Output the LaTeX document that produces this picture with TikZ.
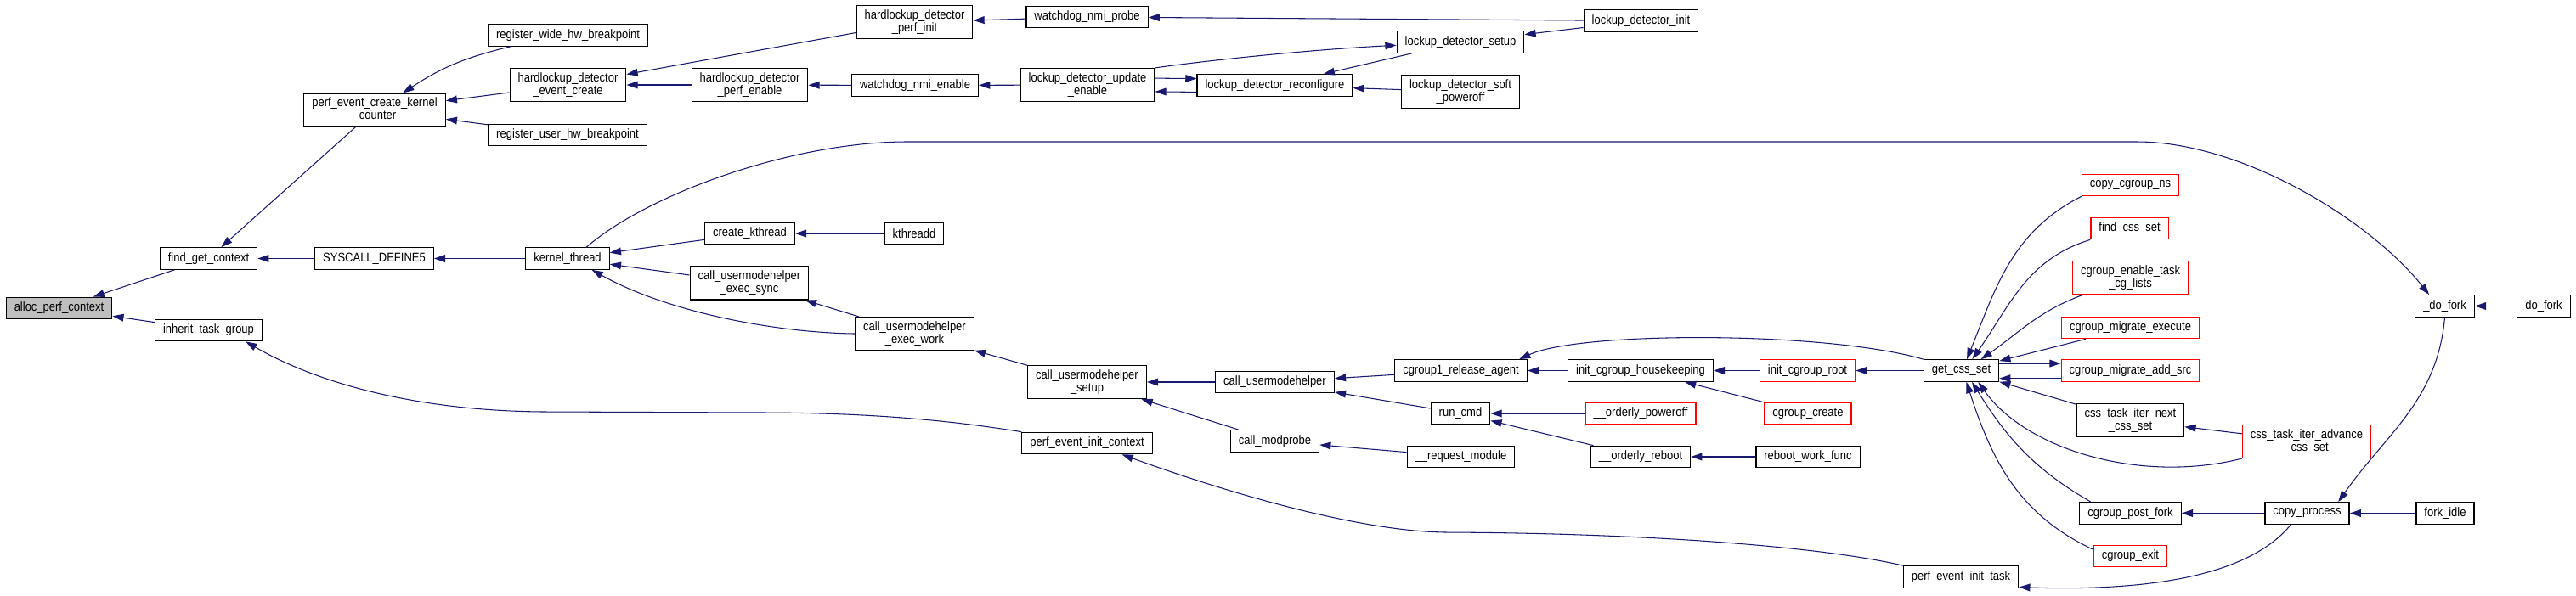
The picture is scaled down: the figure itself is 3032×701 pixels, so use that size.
\documentclass[tikz,border=0pt]{standalone}
\usepackage{fontspec}
\setmainfont{Liberation Sans}[FakeStretch=0.87]
\usepackage{tikz}
\usetikzlibrary{arrows.meta}
\definecolor{dxedge}{RGB}{25,25,112}
\definecolor{dxgray}{RGB}{191,191,191}
\definecolor{dxred}{RGB}{255,0,0}

\begin{document}
\begin{tikzpicture}[x=0.02cm,y=0.02cm,font=\fontsize{8.5}{8.5}\selectfont,
      f/.style={draw=black,line width=.7pt,fill=white,inner xsep=5.4pt,
        inner ysep=2.9pt,minimum height=14.5pt,align=center},
      r/.style={f,draw=dxred},
      a/.style={-{Triangle[length=7.5pt,width=5pt]},color=dxedge,line width=.6pt}]
      \useasboundingbox (0,0) rectangle (3032,-701);
      \node[f,fill=dxgray] (alloc) at (69.5,-363) {alloc\_perf\_context};
      \node[f] (findctx) at (245.5,-304.5) {find\_get\_context};
      \node[f] (inherit) at (245.5,-389) {inherit\_task\_group};
      \node[f] (createkc) at (441,-129.5) {perf\_event\_create\_kernel\\\_counter};
      \node[f] (sysdef) at (440.5,-304.5) {SYSCALL\_DEFINE5};
      \node[f] (regwide) at (668.5,-41.5) {register\_wide\_hw\_breakpoint};
      \node[f] (hdcreate) at (668.5,-100) {hardlockup\_detector\\\_event\_create};
      \node[f] (reguser) at (668,-159) {register\_user\_hw\_breakpoint};
      \node[f] (kthread) at (668,-304.5) {kernel\_thread};
      \node[f] (hdinit) at (1076.5,-26) {hardlockup\_detector\\\_perf\_init};
      \node[f] (hdenable) at (882.5,-100) {hardlockup\_detector\\\_perf\_enable};
      \node[f] (mkkthread) at (882.5,-275) {create\_kthread};
      \node[f] (umhsync) at (882,-333.5) {call\_usermodehelper\\\_exec\_sync};
      \node[f] (nmiprobe) at (1279.5,-20) {watchdog\_nmi\_probe};
      \node[f] (nmienable) at (1077,-100.5) {watchdog\_nmi\_enable};
      \node[f] (kthreadd) at (1076,-275) {kthreadd};
      \node[f] (umhwork) at (1076.5,-393) {call\_usermodehelper\\\_exec\_work};
      \node[f] (ldupdate) at (1280,-100) {lockup\_detector\_update\\\_enable};
      \node[f] (umhsetup) at (1279.5,-450) {call\_usermodehelper\\\_setup};
      \node[f] (initctx) at (1279.5,-522) {perf\_event\_init\_context};
      \node[f] (ldreconf) at (1500.5,-100.5) {lockup\_detector\_reconfigure};
      \node[f] (umh) at (1500.5,-450) {call\_usermodehelper};
      \node[f] (modprobe) at (1500.5,-519.5) {call\_modprobe};
      \node[f] (ldsetup) at (1719,-49.5) {lockup\_detector\_setup};
      \node[f] (ldsoftoff) at (1719,-108) {lockup\_detector\_soft\\\_poweroff};
      \node[f] (relagent) at (1719.5,-436.5) {cgroup1\_release\_agent};
      \node[f] (runcmd) at (1719,-487) {run\_cmd};
      \node[f] (reqmod) at (1719.5,-538) {\_\_request\_module};
      \node[f] (ldinit) at (1931.5,-24.5) {lockup\_detector\_init};
      \node[f] (housekeep) at (1931,-436.5) {init\_cgroup\_housekeeping};
      \node[r] (poweroff) at (1931,-487) {\_\_orderly\_poweroff};
      \node[f] (reboot) at (1931,-538) {\_\_orderly\_reboot};
      \node[r] (cgroot) at (2127.5,-436.5) {init\_cgroup\_root};
      \node[r] (cgcreate) at (2128,-487) {cgroup\_create};
      \node[f] (rebootwf) at (2128,-538) {reboot\_work\_func};
      \node[f] (getcss) at (2308.5,-436.5) {get\_css\_set};
      \node[f] (inittask) at (2308,-679.5) {perf\_event\_init\_task};
      \node[r] (cgns) at (2507.5,-218) {copy\_cgroup\_ns};
      \node[r] (findcss) at (2506.5,-269) {find\_css\_set};
      \node[r] (cgenable) at (2507.5,-327) {cgroup\_enable\_task\\\_cg\_lists};
      \node[r] (migexec) at (2507.5,-386) {cgroup\_migrate\_execute};
      \node[r] (migadd) at (2507.5,-436.5) {cgroup\_migrate\_add\_src};
      \node[f] (iternext) at (2507.5,-495) {css\_task\_iter\_next\\\_css\_set};
      \node[f] (postfork) at (2507.5,-604.5) {cgroup\_post\_fork};
      \node[r] (cgexit) at (2507.5,-655) {cgroup\_exit};
      \node[r] (iteradv) at (2715,-520) {css\_task\_iter\_advance\\\_css\_set};
      \node[f] (copyproc) at (2715.5,-604.5) {copy\_process};
      \node[f] (idofork) at (2877.5,-360.5) {\_do\_fork};
      \node[f] (forkidle) at (2878,-604.5) {fork\_idle};
      \node[f] (dofork) at (2994,-360.5) {do\_fork};
      \draw[a] (findctx)--(alloc);
      \draw[a] (inherit)--(alloc);
      \draw[a] (createkc)--(findctx);
      \draw[a] (sysdef)--(findctx);
      \draw[a] (regwide) to[bend right=10] (createkc);
      \draw[a] (hdcreate)--(createkc);
      \draw[a] (reguser)--(createkc);
      \draw[a] (kthread)--(sysdef);
      \draw[a] (hdinit)--(hdcreate);
      \draw[a] (hdenable)--(hdcreate);
      \draw[a] (nmiprobe)--(hdinit);
      \draw[a] (ldinit)--(nmiprobe);
      \draw[a] (nmienable)--(hdenable);
      \draw[a] (ldupdate)--(nmienable);
      \draw[a] ([yshift=4.5pt]ldupdate.east)--([yshift=4.5pt]ldreconf.west);
      \draw[a] ([yshift=-4.5pt]ldreconf.west)--([yshift=-4.5pt]ldupdate.east);
      \draw[a] (ldupdate.north east) .. controls (1430,-70) and (1550,-58) .. (ldsetup);
      \draw[a] (ldsetup)--(ldreconf);
      \draw[a] (ldsoftoff)--(ldreconf);
      \draw[a] (ldinit)--(ldsetup);
      \draw[a] (kthread.31) .. controls (760,-230) and (930,-167) .. (1068,-167)
        -- (2515,-167) .. controls (2640,-167) and (2790,-260) .. (idofork.144);
      \draw[a] (mkkthread)--(kthread);
      \draw[a] (kthreadd)--(mkkthread);
      \draw[a] (umhsync)--(kthread);
      \draw[a] (umhwork.west) .. controls (920,-392) and (790,-370) .. (kthread.-25);
      \draw[a] (umhwork)--(umhsync);
      \draw[a] (umhsetup)--(umhwork);
      \draw[a] (umh)--(umhsetup);
      \draw[a] (modprobe)--(umhsetup);
      \draw[a] (relagent)--(umh);
      \draw[a] (runcmd)--(umh);
      \draw[a] (reqmod)--(modprobe);
      \draw[a] (housekeep)--(relagent);
      \draw[a] (getcss.north west) .. controls (2150,-390) and (1860,-390) .. (relagent.11);
      \draw[a] (poweroff)--(runcmd);
      \draw[a] (reboot)--(runcmd);
      \draw[a] (rebootwf)--(reboot);
      \draw[a] (cgroot)--(housekeep);
      \draw[a] (cgcreate)--(housekeep);
      \draw[a] (getcss)--(cgroot);
      \draw[a] (cgns.south west) to[out=207,in=68] (getcss.64);
      \draw[a] (findcss.south west) to[out=197,in=55] (getcss.46);
      \draw[a] (cgenable.-160) to[out=200,in=35] (getcss.30);
      \draw[a] (migexec)--(getcss);
      \draw[a] ([yshift=4.8pt]getcss.east)--([yshift=4.8pt]migadd.west);
      \draw[a] ([yshift=-5.2pt]migadd.west)--([yshift=-5.2pt]getcss.east);
      \draw[a] (iternext)--(getcss);
      \draw[a] (iteradv.south west) .. controls (2520,-570) and (2385,-530) .. (getcss.-34);
      \draw[a] (iteradv)--(iternext);
      \draw[a] (postfork.164) to[out=150,in=-58] (getcss.-47);
      \draw[a] (cgexit.170) to[out=155,in=-72] (getcss.-66);
      \draw[a] (copyproc)--(postfork);
      \draw[a] (forkidle)--(copyproc);
      \draw[a] (idofork.south) to[out=-95,in=55] (copyproc.20);
      \draw[a] (dofork)--(idofork);
      \draw[a] (copyproc.-145) .. controls (2650,-675) and (2540,-697) .. (inittask.-10);
      \draw[a] (inittask.north west) .. controls (2150,-645) and (1950,-628) .. (1700,-627)
        .. controls (1590,-625) and (1430,-575) .. (initctx.-18);
      \draw[a] (initctx.north west) .. controls (1100,-492) and (1000,-486) .. (893,-486)
        -- (640,-485) .. controls (500,-484) and (380,-455) .. (inherit.-17);
    \end{tikzpicture}
\end{document}
